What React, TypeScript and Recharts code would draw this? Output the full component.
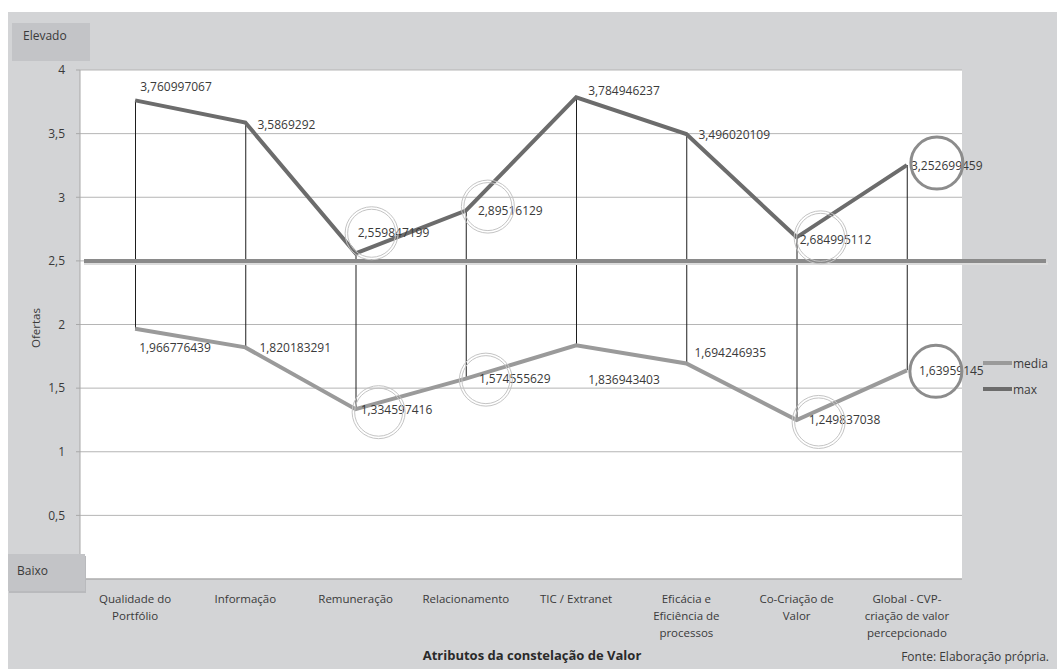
import React from "react";
import {
  Bar,
  CartesianGrid,
  ComposedChart,
  LabelList,
  Line,
  ReferenceLine,
  XAxis,
  YAxis,
} from "recharts";

const categories = [
  "Qualidade do\nPortfólio",
  "Informação",
  "Remuneração",
  "Relacionamento",
  "TIC / Extranet",
  "Eficácia e\nEficiência de\nprocessos",
  "Co-Criação de\nValor",
  "Global - CVP-\ncriação de valor\npercepcionado",
];
const mediaValues = [
  1.966776439, 1.820183291, 1.334597416, 1.574555629, 1.836943403, 1.694246935,
  1.249837038, 1.63959145,
];
const maxValues = [
  3.760997067, 3.5869292, 2.559847199, 2.89516129, 3.784946237, 3.496020109,
  2.684995112, 3.252699459,
];
const yTicks = [0, 0.5, 1, 1.5, 2, 2.5, 3, 3.5, 4];
const threshold = 2.5;

// label placement, relative to each point (dx, dy)
const maxLabelOffsets = [
  [5, -14], [12, 2], [2, -21], [12, 0], [12, -7], [12, 0], [3, 2], [4, 0],
];
const mediaLabelOffsets = [
  [4, 19], [14, 0], [5, 0], [13, 0], [12, 34], [8, -11], [12, 0], [12, 0],
];
// highlighted labels (circles): index -> [dx, dy, thick]
const maxCircles: Record<number, [number, number, boolean]> = {
  2: [16, -20, false],
  3: [22, -4, false],
  6: [24, 0, false],
  7: [30, -2, true],
};
const mediaCircles: Record<number, [number, number, boolean]> = {
  2: [23, 3, false],
  3: [20, 1, false],
  6: [22, 2, false],
  7: [29, 1, true],
};

const FONT = "'Open Sans', 'Noto Sans', sans-serif";
const TEXT = "#3a3a3a";
const BG = "#d3d4d6";
const BOX = "#c3c4c7";
const MEDIA_COLOR = "#9a9a9a";
const MAX_COLOR = "#6c6c6c";

const data = categories.map((name, i) => ({
  name,
  media: mediaValues[i],
  max: maxValues[i],
  range: [mediaValues[i], maxValues[i]],
}));

const fmt = (v: number) => String(v).replace(".", ",");

function makeLabel(
  offsets: number[][],
  circles: Record<number, [number, number, boolean]>
) {
  return (props: any) => {
    const { x, y, value, index } = props;
    const [dx, dy] = offsets[index] || [10, 0];
    const c = circles[index];
    return (
      <g key={`lbl-${index}`}>
        <text
          x={x + dx}
          y={y + dy}
          dominantBaseline="central"
          fontSize={12}
          fontFamily={FONT}
          fill={TEXT}
        >
          {fmt(value)}
        </text>
        {c &&
          (c[2] ? (
            <circle
              cx={x + c[0]}
              cy={y + c[1]}
              r={26}
              fill="none"
              stroke="#8c8c8c"
              strokeWidth={3}
            />
          ) : (
            <g fill="none" stroke="#c4c4c4" strokeWidth={1}>
              <circle cx={x + c[0]} cy={y + c[1]} r={24} />
              <circle cx={x + c[0]} cy={y + c[1]} r={26.5} />
            </g>
          ))}
      </g>
    );
  };
}

const XTick = (props: any) => {
  const { x, y, payload } = props;
  const lines = String(payload.value).split("\n");
  return (
    <text
      x={x}
      y={y}
      textAnchor="middle"
      fontSize={11.5}
      fontFamily={FONT}
      fill={TEXT}
    >
      {lines.map((l, i) => (
        <tspan key={i} x={x} dy={i === 0 ? 24 : 17}>
          {l}
        </tspan>
      ))}
    </text>
  );
};

const ThresholdShape = (props: any) => {
  const { x1, y1, x2, y2 } = props;
  if (x1 == null) return null;
  return (
    <g>
      <line x1={x1 + 4} x2={x2 + 86} y1={y1 + 2.5} y2={y2 + 2.5} stroke="#dcdcdc" strokeWidth={3} />
      <line x1={x1 + 4} x2={x2 + 84} y1={y1} y2={y2} stroke="#8a8a8a" strokeWidth={4} />
    </g>
  );
};

export default function App() {
  return (
    <>
      <style>{"body{margin:0;overflow:hidden}"}</style>
      <div
        style={{
          position: "absolute",
          left: 8,
          top: 12,
          width: 1049,
          height: 657,
          background: BG,
          fontFamily: FONT,
        }}
      >
        <ComposedChart
          width={1049}
          height={657}
          data={data}
          margin={{ top: 58, right: 95, bottom: 30, left: 0 }}
        >
          <CartesianGrid vertical={false} fill="#ffffff" stroke="#b5b5b5" />
          <XAxis
            dataKey="name"
            height={60}
            tick={<XTick />}
            tickLine={false}
            tickSize={0}
            tickMargin={0}
            axisLine={{ stroke: "#a8a8a8" }}
            interval={0}
          />
          <YAxis
            width={72}
            domain={[0, 4]}
            ticks={yTicks}
            tickFormatter={fmt}
            tickSize={4}
            tickMargin={11}
            tickLine={{ stroke: "#a8a8a8" }}
            axisLine={{ stroke: "#a8a8a8" }}
            tick={{ fontSize: 12, fill: TEXT, fontFamily: FONT }}
          />
          <Bar dataKey="range" barSize={1} fill="#1e1e1e" isAnimationActive={false} />
          <ReferenceLine y={threshold} shape={<ThresholdShape />} />
          <Line
            type="linear"
            dataKey="media"
            name="media"
            stroke={MEDIA_COLOR}
            strokeWidth={4}
            dot={false}
            isAnimationActive={false}
          >
            <LabelList dataKey="media" content={makeLabel(mediaLabelOffsets, mediaCircles)} />
          </Line>
          <Line
            type="linear"
            dataKey="max"
            name="max"
            stroke={MAX_COLOR}
            strokeWidth={4}
            dot={false}
            isAnimationActive={false}
          >
            <LabelList dataKey="max" content={makeLabel(maxLabelOffsets, maxCircles)} />
          </Line>
        </ComposedChart>
        <svg
          width={1049}
          height={657}
          style={{ position: "absolute", left: 0, top: 0, pointerEvents: "none" }}
          fontFamily={FONT}
        >
          <rect x={4} y={11} width={78} height={38} fill={BOX} />
          <text x={15} y={23} dominantBaseline="central" fontSize={12} fill={TEXT}>
            Elevado
          </text>
          <rect x={1} y={544} width={77} height={37} fill="#b9babd" />
          <rect x={0} y={542} width={77} height={37} fill={BOX} />
          <text x={9} y={558} dominantBaseline="central" fontSize={12} fill={TEXT}>
            Baixo
          </text>
          <text
            x={27}
            y={316}
            textAnchor="middle"
            dominantBaseline="central"
            fontSize={11.5}
            fill={TEXT}
            transform="rotate(-90 27 316)"
          >
            Ofertas
          </text>
          <text x={524} y={643} textAnchor="middle" dominantBaseline="central" fontSize={13} fontWeight="bold" fill="#2a2a2a">
            Atributos da constelação de Valor
          </text>
          <text x={1041} y={644} textAnchor="end" dominantBaseline="central" fontSize={12} fill={TEXT}>
            Fonte: Elaboração própria.
          </text>
          {[
            { name: "media", color: MEDIA_COLOR },
            { name: "max", color: MAX_COLOR },
          ].map((s, i) => (
            <g key={s.name}>
              <line x1={975} x2={1004} y1={351 + i * 26} y2={351 + i * 26} stroke={s.color} strokeWidth={4} />
              <text x={1005} y={351 + i * 26} dominantBaseline="central" fontSize={12} fill={TEXT}>
                {s.name}
              </text>
            </g>
          ))}
        </svg>
      </div>
    </>
  );
}
